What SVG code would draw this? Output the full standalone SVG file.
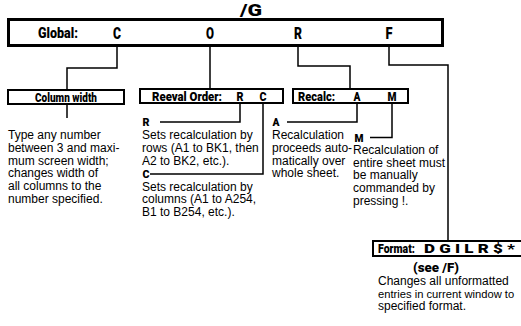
<svg xmlns="http://www.w3.org/2000/svg" width="521" height="326" viewBox="0 0 521 326">
<style>
.bg{fill:#fff}
.box{fill:#fff;stroke:#000;stroke-width:2}
.main{fill:#fff;stroke:#000;stroke-width:3}
.hd{font-family:Roboto,"Liberation Sans",Arial,sans-serif;font-weight:900;font-size:13px;fill:#000}
.big{font-family:Roboto,"Liberation Sans",Arial,sans-serif;font-weight:900;font-size:17px;fill:#000;text-anchor:middle}
.lt{font-family:Roboto,"Liberation Sans",Arial,sans-serif;font-weight:900;font-size:13.5px;fill:#000;text-anchor:middle}
.lb{font-family:Roboto,"Liberation Sans",Arial,sans-serif;font-weight:900;font-size:11px;fill:#000;text-anchor:middle}
.tx{font-family:"Liberation Sans",Arial,sans-serif;font-size:12px;fill:#000}
.ln{fill:none;stroke:#000;stroke-width:1.5}
</style>
<rect class="bg" width="521" height="326"/>
<text x="240" y="16" style="font-family:Roboto,'Liberation Sans',Arial,sans-serif;font-weight:900;font-size:17px" textLength="22" lengthAdjust="spacingAndGlyphs">/G</text>

<g id="global">
<rect class="main" x="8.5" y="19.5" width="434" height="26"/>
<text class="hd" x="38" y="38" style="font-size:15px" textLength="40" lengthAdjust="spacingAndGlyphs">Global:</text>
<text class="big" x="117" y="38.5" textLength="8" lengthAdjust="spacingAndGlyphs">C</text>
<text class="big" x="210" y="38.5" textLength="8" lengthAdjust="spacingAndGlyphs">O</text>
<text class="big" x="298" y="38.5" textLength="8" lengthAdjust="spacingAndGlyphs">R</text>
<text class="big" x="389" y="38.5" textLength="7" lengthAdjust="spacingAndGlyphs">F</text>
</g>

<g id="connectors">
<path class="ln" d="M117,46 V68 H67 V90"/>
<path class="ln" d="M210,46 V89"/>
<path class="ln" d="M298,46 V66 H350 V89"/>
<path class="ln" d="M389,46 V65 H448 V241"/>
<path class="ln" d="M67,104 V118"/>
<path class="ln" d="M240,103 V122 H160"/>
<path class="ln" d="M263,103 V174 H150"/>
<path class="ln" d="M357,103 V122 H287"/>
<path class="ln" d="M392,103 V137.5 H370"/>
</g>

<g id="column-width">
<rect class="box" x="8" y="90" width="116" height="14"/>
<text class="hd" x="35" y="101.8" textLength="62" lengthAdjust="spacingAndGlyphs">Column width</text>
<text class="tx" x="8" y="139">Type any number</text>
<text class="tx" x="8" y="151.8">between 3 and maxi-</text>
<text class="tx" x="8" y="164.6">mum screen width;</text>
<text class="tx" x="8" y="177.4">changes width of</text>
<text class="tx" x="8" y="190.2">all columns to the</text>
<text class="tx" x="8" y="203">number specified.</text>
</g>

<g id="reeval-order">
<rect class="box" x="140" y="89" width="143" height="14"/>
<text class="hd" x="152" y="100.8" textLength="70" lengthAdjust="spacingAndGlyphs">Reeval Order:</text>
<text class="lt" x="240" y="101.3" textLength="7" lengthAdjust="spacingAndGlyphs">R</text>
<text class="lt" x="263" y="101.3" textLength="7" lengthAdjust="spacingAndGlyphs">C</text>
<text class="lb" x="146" y="126" textLength="7" lengthAdjust="spacingAndGlyphs">R</text>
<text class="tx" x="142" y="139">Sets recalculation by</text>
<text class="tx" x="142" y="151.8">rows (A1 to BK1, then</text>
<text class="tx" x="142" y="164.6">A2 to BK2, etc.).</text>
<text class="lb" x="146" y="178" textLength="7" lengthAdjust="spacingAndGlyphs">C</text>
<text class="tx" x="142" y="190.8">Sets recalculation by</text>
<text class="tx" x="142" y="203.4">columns (A1 to A254,</text>
<text class="tx" x="142" y="216">B1 to B254, etc.).</text>
</g>

<g id="recalc">
<rect class="box" x="293" y="89" width="115" height="14"/>
<text class="hd" x="298" y="100.8" textLength="37" lengthAdjust="spacingAndGlyphs">Recalc:</text>
<text class="lt" x="357" y="101.3" textLength="7" lengthAdjust="spacingAndGlyphs">A</text>
<text class="lt" x="392" y="101.3" textLength="9" lengthAdjust="spacingAndGlyphs">M</text>
<text class="lb" x="276" y="126" textLength="7" lengthAdjust="spacingAndGlyphs">A</text>
<text class="tx" x="272" y="139">Recalculation</text>
<text class="tx" x="272" y="151.8">proceeds auto-</text>
<text class="tx" x="272" y="164.6">matically over</text>
<text class="tx" x="272" y="177.4">whole sheet.</text>
<text class="lb" x="359" y="141.5" textLength="9" lengthAdjust="spacingAndGlyphs">M</text>
<text class="tx" x="353" y="154">Recalculation of</text>
<text class="tx" x="353" y="166.7">entire sheet must</text>
<text class="tx" x="353" y="179.4">be manually</text>
<text class="tx" x="353" y="192.1">commanded by</text>
<text class="tx" x="353" y="204.8">pressing !.</text>
</g>

<g id="format">
<rect class="box" x="373" y="241" width="152" height="15"/>
<text class="hd" x="378" y="253.3" textLength="37" lengthAdjust="spacingAndGlyphs">Format:</text>
<text class="hd" x="424" y="253.3" textLength="91" lengthAdjust="spacingAndGlyphs">D G I L R $ *</text>
<text class="hd" x="413" y="272" textLength="46" lengthAdjust="spacingAndGlyphs">(see /F)</text>
<text class="tx" x="378" y="285">Changes all unformatted</text>
<text class="tx" x="378" y="297.5" style="font-size:11.2px">entries in current window to</text>
<text class="tx" x="378" y="310">specified format.</text>
</g>
</svg>
